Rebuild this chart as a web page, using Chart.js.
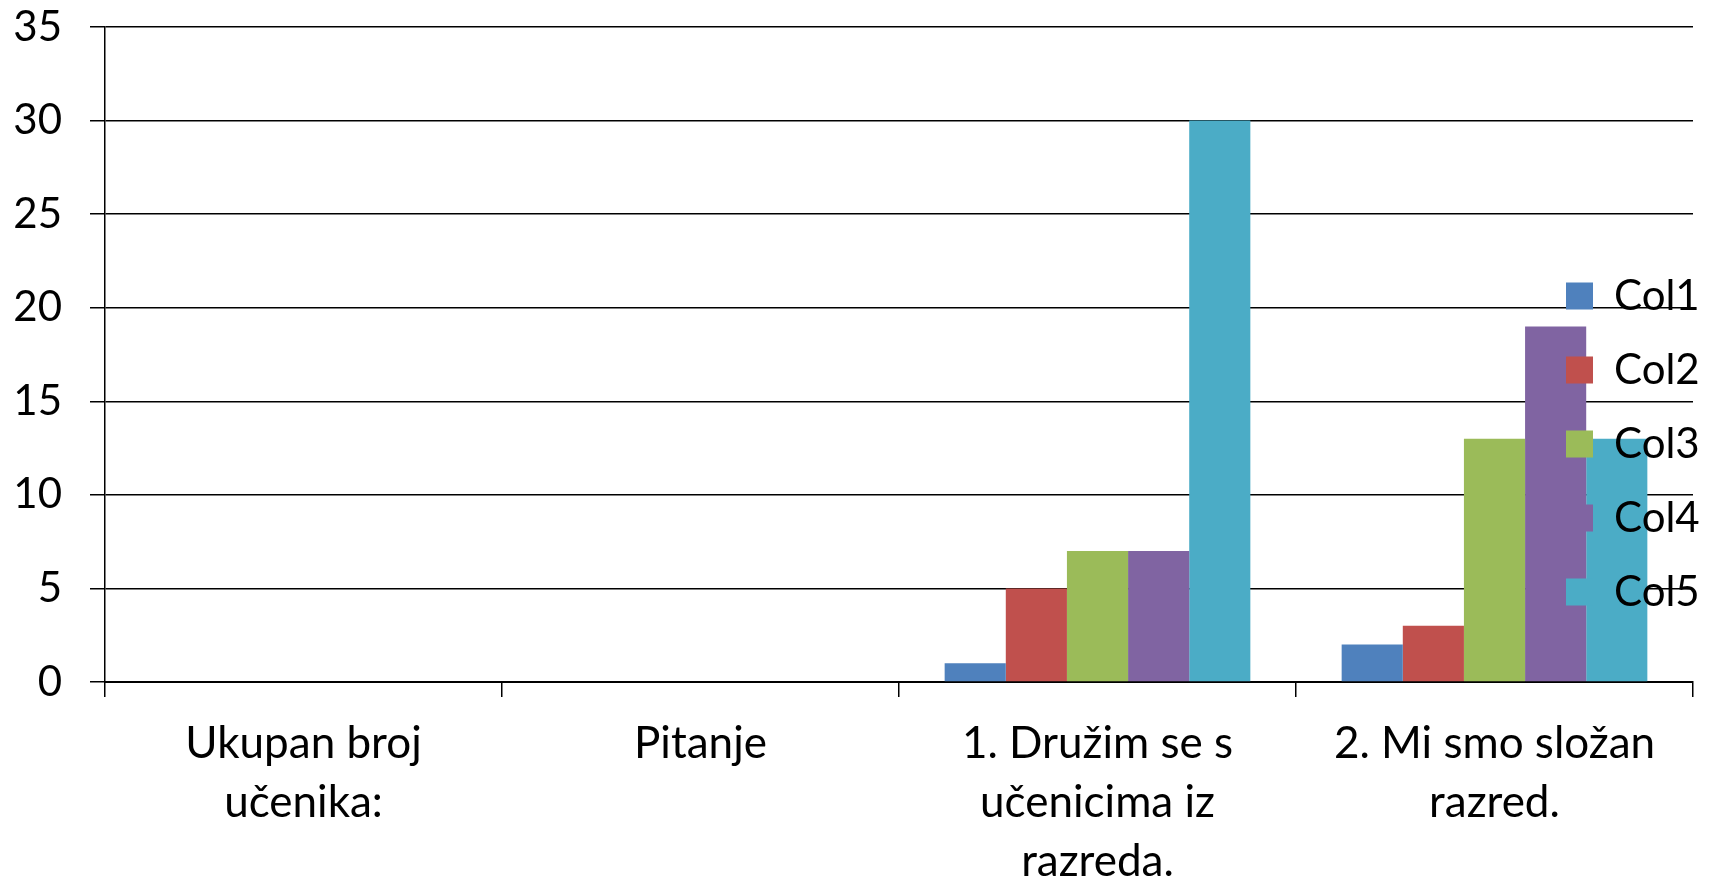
<!DOCTYPE html>
<html>
<head>
<meta charset="utf-8">
<script src="https://cdn.jsdelivr.net/npm/chart.js@4/dist/chart.umd.min.js"></script>
<style>
  html, body { margin: 0; padding: 0; background: #fff; }
  #okvir { width: 1717px; height: 882px; }
</style>
</head>
<body>
<div id="okvir"><canvas id="grafik"></canvas></div>
<script>
// podaci
const kategorije = [
    ["Ukupan broj", "učenika:"],
    "Pitanje",
    ["1. Družim se s", "učenicima iz", "razreda."],
    ["2. Mi smo složan", "razred."]
];
const col1 = [null, null, 1, 2];
const col2 = [null, null, 5, 3];
const col3 = [null, null, 7, 13];
const col4 = [null, null, 7, 19];
const col5 = [null, null, 30, 13];
const yOznake = [0, 5, 10, 15, 20, 25, 30, 35];

Chart.defaults.font.family = "Lato, 'Open Sans', sans-serif";
Chart.defaults.color = "#000";

// legenda preko stupaca, desno (kao u Excelu)
const legendaDesno = {
    id: "legendaDesno",
    beforeLayout(chart) {
        // normalni sloj legende ne crta nista, crta se poslije stupaca
        chart.legend._layers = () => [{ z: 0, draw: () => {} }];
    },
    afterLayout(chart) {
        const lg = chart.legend;
        lg.left = 1534;
        lg.right = lg.left + lg.width;
        lg.top = 243;
        lg.bottom = lg.top + lg.height;
    },
    afterDatasetsDraw(chart) {
        chart.legend.draw(chart.chartArea);
    }
};

const ctx = document.getElementById("grafik");

new Chart(ctx, {
    type: "bar",
    data: {
        labels: kategorije,
        datasets: [
            { label: "Col1", data: col1, backgroundColor: "#4F81BD" },
            { label: "Col2", data: col2, backgroundColor: "#C0504D" },
            { label: "Col3", data: col3, backgroundColor: "#9BBB59" },
            { label: "Col4", data: col4, backgroundColor: "#8064A2" },
            { label: "Col5", data: col5, backgroundColor: "#4BACC6" }
        ]
    },
    options: {
        responsive: true,
        maintainAspectRatio: false,
        animation: false,
        categoryPercentage: 0.77,
        barPercentage: 1,
        layout: { padding: { top: 27, right: 24, left: 0, bottom: 0 } },
        plugins: {
            tooltip: { enabled: false },
            legend: {
                position: "chartArea",
                align: "start",
                labels: {
                    color: "#000",
                    boxWidth: 27,
                    boxHeight: 27,
                    padding: 32,
                    font: { size: 42 }
                }
            }
        },
        scales: {
            x: {
                grid: {
                    offset: true,
                    drawOnChartArea: false,
                    drawTicks: true,
                    tickLength: 15,
                    color: "#000",
                    lineWidth: 1.5
                },
                border: { display: true, color: "#000", width: 2 },
                ticks: {
                    color: "#000",
                    autoSkip: false,
                    maxRotation: 0,
                    padding: 17,
                    font: { size: 44, lineHeight: 1.34 }
                },
                afterFit: (s) => { s.height = 200; }
            },
            y: {
                min: 0,
                max: 35,
                grid: {
                    color: "#000",
                    lineWidth: 1.5,
                    drawTicks: true,
                    tickLength: 15
                },
                border: { display: true, color: "#000", width: 1.5 },
                ticks: {
                    color: "#000",
                    padding: 28,
                    font: { size: 42 }
                },
                afterBuildTicks: (s) => { s.ticks = yOznake.map(v => ({ value: v })); },
                afterFit: (s) => {
                    s.width = 105;
                    s.paddingTop = 0;
                    s.paddingBottom = 0;
                }
            }
        }
    },
    plugins: [legendaDesno]
});
</script>
</body>
</html>
